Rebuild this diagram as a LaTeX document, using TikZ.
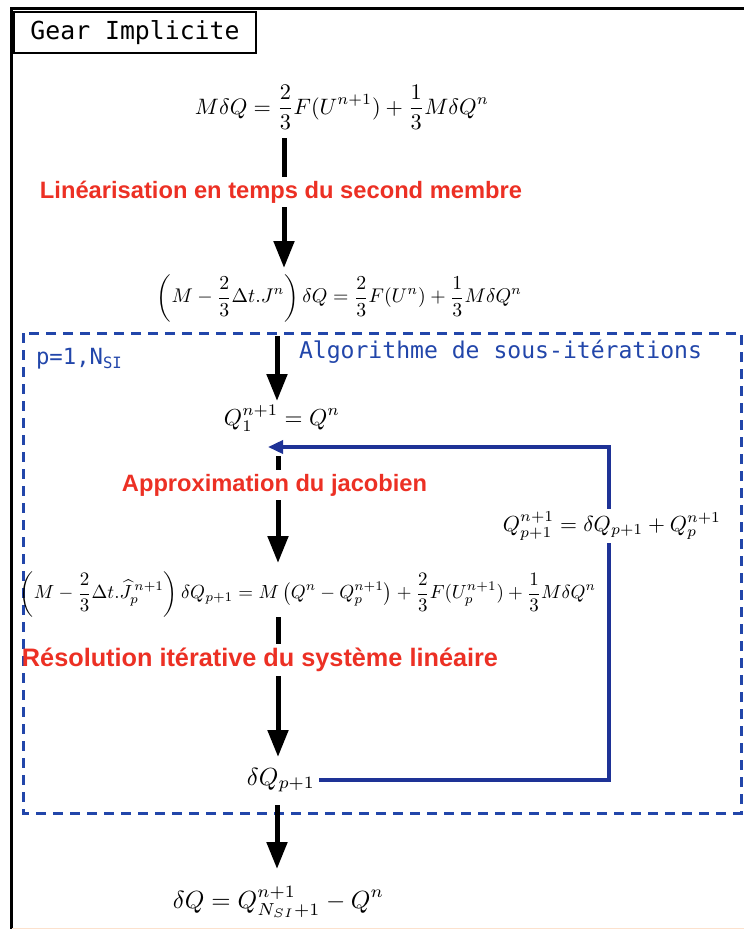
\documentclass[tikz,border=0pt]{standalone}
\usepackage{graphicx}
\usepackage{amsmath}
\usepackage{fontspec}
\setmonofont{DejaVu Sans Mono}
\newfontfamily\labfont{Liberation Sans}
\usetikzlibrary{arrows.meta}
\definecolor{lred}{RGB}{236,48,36}
\definecolor{dblue}{RGB}{34,70,170}
\definecolor{fblue}{RGB}{30,50,150}
\definecolor{peach}{RGB}{252,225,205}
\begin{document}
\begin{tikzpicture}[x=1pt,y=-1pt,
  eq/.style={inner sep=0pt},
  lab/.style={inner sep=4pt, text=lred, font=\labfont\bfseries},
  bluetxt/.style={inner sep=0pt, text=dblue, font=\ttfamily},
  shaft/.style={line width=5pt, black},
  arr/.style={line width=5pt, black, -{Triangle[length=27pt,width=20pt]}},
  fb/.style={line width=3.5pt, fblue},
  fbarr/.style={line width=3.5pt, fblue, -{Triangle[length=15pt,width=13pt]}},
  dbox/.style={line width=3pt, dblue, dash pattern=on 10pt off 7pt},
  frame/.style={line width=3pt, black}
]
\useasboundingbox (0,0) rectangle (744,929);
% outer frame
\draw[frame] (11,929) -- (11,8.5) -- (744,8.5);
\draw[peach, line width=1pt] (12,928) -- (744,928);
% title
\node[draw, line width=1.3pt, minimum width=242pt, minimum height=41pt, inner sep=0pt] (title) at (135,32.5)
  {\resizebox{209pt}{!}{\ttfamily Gear Implicite}};
% dashed box
\draw[dbox] (23,333) rectangle (741,813);
% equations
\node[eq] (eq1) at (342,107) {\resizebox{294pt}{!}{$\displaystyle M\delta Q=\frac{2}{3}F(U^{n+1})+\frac{1}{3}M\delta Q^{n}$}};
\node[eq] (eq2) at (339.5,298) {\resizebox{365pt}{!}{$\displaystyle \left(M-\frac{2}{3}\Delta t.J^{n}\right)\delta Q=\frac{2}{3}F(U^{n})+\frac{1}{3}M\delta Q^{n}$}};
\node[eq] (q1) at (282,418) {\resizebox{116pt}{!}{$\displaystyle Q_1^{n+1}=Q^{n}$}};
\node[eq] (eq3) at (308,594) {\resizebox{576pt}{!}{$\displaystyle \left(M-\frac{2}{3}\Delta t.\widehat{J}_p^{\,n+1}\right)\delta Q_{p+1}=M\left(Q^{n}-Q_p^{n+1}\right)+\frac{2}{3}F(U_p^{n+1})+\frac{1}{3}M\delta Q^{n}$}};
\node[eq, inner sep=3pt] (qp1) at (612,526) {\resizebox{218pt}{!}{$\displaystyle Q_{p+1}^{n+1}=\delta Q_{p+1}+Q_p^{n+1}$}};
\node[eq, inner sep=4pt] (dqp) at (281,780) {\resizebox{68pt}{!}{$\displaystyle \delta Q_{p+1}$}};
\node[eq] (fin) at (278.5,902) {\resizebox{211pt}{!}{$\displaystyle \delta Q=Q_{N_{SI}+1}^{n+1}-Q^{n}$}};
% labels
\node[lab] (lin) at (281,192) {\resizebox{482pt}{!}{Linéarisation en temps du second membre}};
\node[lab] (app) at (274.5,485) {\resizebox{305pt}{!}{Approximation du jacobien}};
\node[lab] (res) at (260,660) {\resizebox{476pt}{!}{Résolution itérative du système linéaire}};
\node[bluetxt] (alg) at (500.5,352) {\resizebox{403pt}{!}{\ttfamily Algorithme de sous-itérations}};
\node[bluetxt] (pidx) at (79.5,359) {\resizebox{87pt}{!}{\ttfamily p=1,N\textsubscript{SI}}};
% arrow coordinates
\coordinate (a1s) at (284,138);
\coordinate (a1e) at (284,268);
\coordinate (a2s) at (277,336);
\coordinate (a2e) at (277,401);
\coordinate (a3s) at (278,456);
\coordinate (a3e) at (278,563);
\coordinate (a4s) at (278,617);
\coordinate (a4e) at (278,757);
\coordinate (a5s) at (277,805);
\coordinate (a5e) at (277,869);
\coordinate (fbR) at (609,780);
\coordinate (fbT) at (609,447);
\coordinate (fbTip) at (268,447);
% black arrows
\draw[shaft] (a1s) -- (a1s |- lin.north);
\draw[arr] (a1s |- lin.south) -- (a1e);
\draw[arr] (a2s) -- (a2e);
\draw[shaft] (a3s) -- (a3s |- app.north);
\draw[arr] (a3s |- app.south) -- (a3e);
\draw[shaft] (a4s) -- (a4s |- res.north);
\draw[arr] (a4s |- res.south) -- (a4e);
\draw[arr] (a5s) -- (a5e);
% feedback loop
\draw[fb] (dqp.east) -- (fbR) -- (fbR |- qp1.south);
\draw[fbarr] (fbR |- qp1.north) -- (fbT) -- (fbTip);
\end{tikzpicture}
\end{document}
